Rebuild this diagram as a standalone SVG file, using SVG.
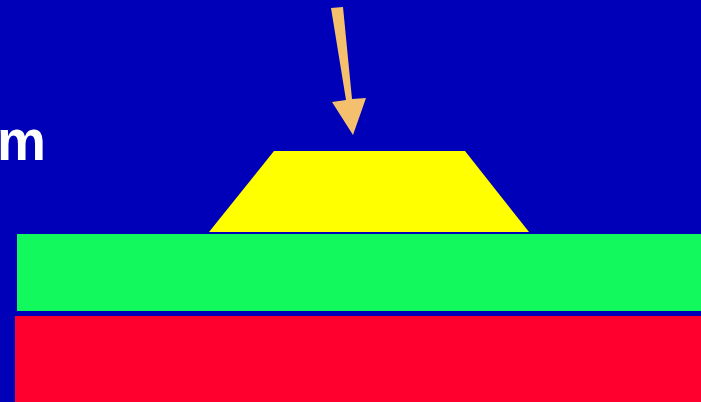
<svg xmlns="http://www.w3.org/2000/svg" width="701" height="402" viewBox="0 0 701 402">
<style>
.lbl{font-family:"Liberation Sans",Arial,sans-serif;font-weight:bold;fill:#FFFFFF}
</style>
<rect x="0" y="0" width="701" height="402" fill="#0000B8"/>
<g id="substrate"><rect x="15" y="316" width="686" height="86" fill="#FF002E"/></g>
<g id="layer"><rect x="17" y="234" width="684" height="77" fill="#12F95E"/></g>
<g id="trapezoid"><polygon points="274,151 465,151 529,232 209,232" fill="#FFFF00"/></g>
<g id="label"><text class="lbl" x="-3" y="160" font-size="58" transform="translate(-3 0) scale(0.95 1) translate(3 0)">m</text></g>
<g id="connectors">
<polygon points="331,8 343,7 352,99 366,98 353,135 332,102 346,100" fill="#F5C06E"/>
</g>
</svg>
